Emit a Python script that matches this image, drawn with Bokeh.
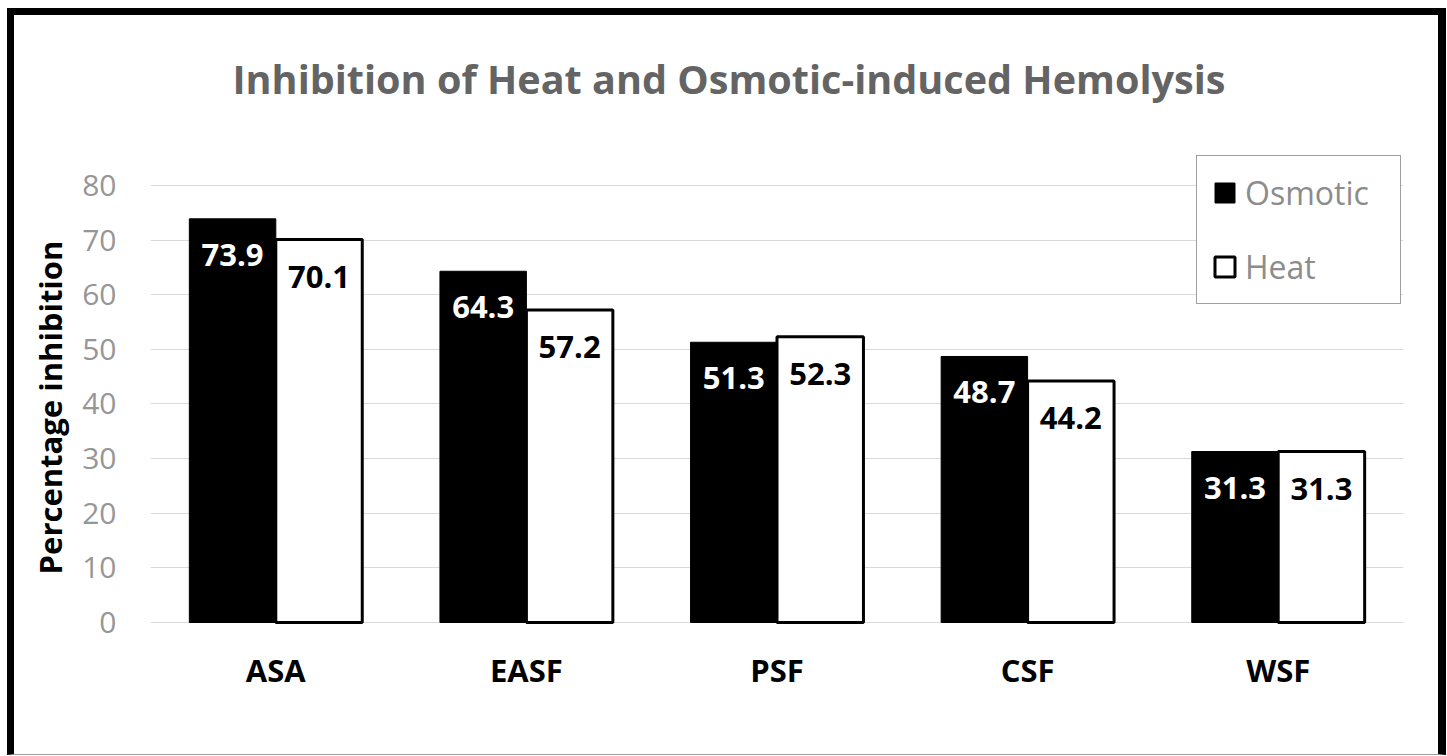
from bokeh.plotting import figure
from bokeh.models import ColumnDataSource, Range1d, FactorRange, Legend, LegendItem, FixedTicker
from bokeh.transform import dodge
from bokeh.core.properties import value
from bokeh.embed import file_html
from bokeh.resources import INLINE

categories = ["ASA", "EASF", "PSF", "CSF", "WSF"]
osmotic = [73.9, 64.3, 51.3, 48.7, 31.3]
heat = [70.1, 57.2, 52.3, 44.2, 31.3]
y_ticks = [0, 10, 20, 30, 40, 50, 60, 70, 80]
title_text = "Inhibition of Heat and Osmotic-induced Hemolysis"
y_label = "Percentage inhibition"

src = ColumnDataSource(dict(
    cat=categories,
    osmotic=osmotic,
    heat=heat,
    osm_lbl=[f"{v:.1f}" for v in osmotic],
    heat_lbl=[f"{v:.1f}" for v in heat],
))

FONT = "Open Sans"

p = figure(
    x_range=FactorRange(*categories),
    y_range=Range1d(-9.703, 88.421),
    width=1439, height=747,
    output_backend="svg", toolbar_location=None,
    min_border_left=136, min_border_right=50,
    min_border_top=124, min_border_bottom=87,
    title=title_text,
)
p.margin = (8, 0, 0, 7)
p.styles = {
    "border-left": "7px solid black",
    "border-top": "7px solid black",
    "border-right": "8px solid black",
    "border-bottom": "1px solid #a0a0a0",
}
p.outline_line_color = None
p.background_fill_color = "white"
p.border_fill_color = "white"

p.title.text_font = FONT
p.title.text_font_size = "39.6px"
p.title.text_font_style = "bold"
p.title.text_color = "#646464"
p.title.align = "left"
p.title.offset = 82
p.title.standoff = 68

w = 0.345
r1 = p.vbar(x=dodge("cat", -w / 2, range=p.x_range), top="osmotic", width=w, source=src,
            fill_color="black", line_color="black", line_width=1)
r2 = p.vbar(x=dodge("cat", w / 2, range=p.x_range), top="heat", width=w, source=src,
            fill_color="white", line_color="black", line_width=3)

p.text(x=dodge("cat", -w / 2, range=p.x_range), y="osmotic", text="osm_lbl", source=src,
       text_align="center", text_baseline="middle", y_offset=36,
       text_color="white", text_font=value(FONT), text_font_size="31px", text_font_style="bold")
p.text(x=dodge("cat", w / 2, range=p.x_range), y="heat", text="heat_lbl", source=src,
       text_align="center", text_baseline="middle", y_offset=37,
       text_color="black", text_font=value(FONT), text_font_size="31px", text_font_style="bold")

# axes
p.yaxis.ticker = FixedTicker(ticks=y_ticks)
p.yaxis.axis_line_color = None
p.yaxis.major_tick_line_color = None
p.yaxis.minor_tick_line_color = None
p.yaxis.major_label_standoff = 28
p.yaxis.major_label_text_font = FONT
p.yaxis.major_label_text_font_size = "30px"
p.yaxis.major_label_text_color = "#969696"
p.yaxis.axis_label = y_label
p.yaxis.axis_label_text_font = FONT
p.yaxis.axis_label_text_font_size = "31px"
p.yaxis.axis_label_text_font_style = "bold"
p.yaxis.axis_label_text_color = "black"
p.yaxis.axis_label_standoff = 8

p.xaxis.axis_line_color = None
p.xaxis.major_tick_line_color = None
p.xaxis.minor_tick_line_color = None
p.xaxis.major_label_standoff = -33
p.xaxis.major_label_text_font = FONT
p.xaxis.major_label_text_font_size = "31px"
p.xaxis.major_label_text_font_style = "bold"
p.xaxis.major_label_text_color = "black"

p.xgrid.grid_line_color = None
p.ygrid.grid_line_color = "#d9d9d9"
p.ygrid.grid_line_width = 1

legend = Legend(
    items=[LegendItem(label="Osmotic", renderers=[r1]), LegendItem(label="Heat", renderers=[r2])],
    location=(1046, 371),
    orientation="vertical",
    padding=15, spacing=31,
    glyph_width=25, glyph_height=25, label_height=25,
    label_width=140, label_standoff=8,
    label_text_font=FONT, label_text_font_size="32px", label_text_color="#8c8c8c",
    border_line_color="#404040", border_line_width=1,
    background_fill_color="white", background_fill_alpha=1,
)
p.add_layout(legend)

open("out.html", "w").write(file_html(p, INLINE))
